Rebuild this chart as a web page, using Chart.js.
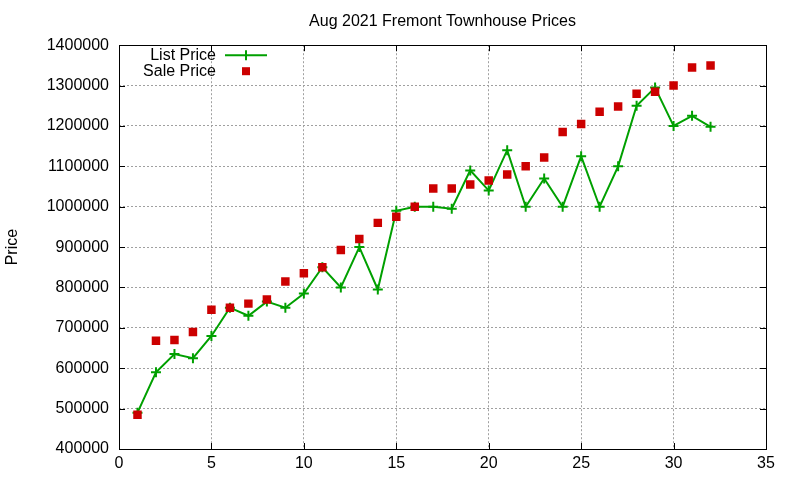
<!DOCTYPE html>
<html>
<head>
<meta charset="utf-8">
<script src="https://cdn.jsdelivr.net/npm/chart.js@4.4.0/dist/chart.umd.min.js"></script>
<style>
  html, body { margin: 0; padding: 0; background: #fff; }
  #wrap { width: 800px; height: 480px; }
</style>
</head>
<body>
<div id="wrap"><canvas id="myChart" width="800" height="480"></canvas></div>
<script>
// listing number (x) for each house
const casas = [1, 2, 3, 4, 5, 6, 7, 8, 9, 10, 11, 12, 13, 14, 15, 16,
  17, 18, 19, 20, 21, 22, 23, 24, 25, 26, 27, 28, 29, 30, 31, 32];

const listPrice = [490000, 590000, 635000, 625000, 680000, 750000, 730000, 765000,
  750000, 785000, 850000, 800000, 900000, 795000, 990000, 1000000,
  1000000, 995000, 1090000, 1040000, 1140000, 1000000, 1070000, 1000000,
  1125000, 1000000, 1100000, 1250000, 1295000, 1200000, 1225000, 1198000];

const salePrice = [485000, 668000, 670000, 690000, 745000, 750000, 760000, 770000,
  815000, 835000, 850000, 893000, 920000, 960000, 975000, 1000000,
  1045000, 1045000, 1055000, 1065000, 1080000, 1100000, 1122000, 1185000,
  1205000, 1235000, 1248000, 1280000, 1285000, 1300000, 1345000, 1350000];

const xTicks = [0, 5, 10, 15, 20, 25, 30, 35];
const yTicks = [400000, 500000, 600000, 700000, 800000, 900000, 1000000,
  1100000, 1200000, 1300000, 1400000];

const verde = 'rgb(0,160,0)';
const rojo = 'rgb(204,0,0)';
const fuente = 'Liberation Sans, Arial, sans-serif';

function puntos(valores) {
  return casas.map((c, i) => ({ x: c, y: valores[i] }));
}

// gnuplot style box, inward ticks on all four sides and legend inside the plot
const marcoGnuplot = {
  id: 'marcoGnuplot',
  afterDatasetsDraw(chart) {
    const { ctx, chartArea: a, scales } = chart;
    ctx.save();
    ctx.strokeStyle = '#000';
    ctx.lineWidth = 1;
    ctx.beginPath();
    xTicks.forEach(v => {
      const px = Math.round(scales.x.getPixelForValue(v)) + 0.5;
      ctx.moveTo(px, a.bottom); ctx.lineTo(px, a.bottom - 6);
      ctx.moveTo(px, a.top); ctx.lineTo(px, a.top + 6);
    });
    yTicks.forEach(v => {
      const py = Math.round(scales.y.getPixelForValue(v)) + 0.5;
      ctx.moveTo(a.left, py); ctx.lineTo(a.left + 6, py);
      ctx.moveTo(a.right, py); ctx.lineTo(a.right - 6, py);
    });
    ctx.stroke();
    ctx.strokeRect(Math.round(a.left) + 0.5, Math.round(a.top) + 0.5,
      Math.round(a.right - a.left), Math.round(a.bottom - a.top));

    // legend
    ctx.font = '16px ' + fuente;
    ctx.fillStyle = '#000';
    ctx.textAlign = 'right';
    ctx.textBaseline = 'middle';
    const ds = chart.data.datasets;
    const tx = a.left + 97, y0 = a.top + 10;
    ctx.fillText(ds[0].label, tx, y0);
    ctx.fillText(ds[1].label, tx, y0 + 16);
    ctx.strokeStyle = verde;
    ctx.lineWidth = 2;
    ctx.beginPath();
    ctx.moveTo(tx + 9, y0); ctx.lineTo(tx + 51, y0);
    ctx.moveTo(tx + 30, y0 - 5); ctx.lineTo(tx + 30, y0 + 5);
    ctx.stroke();
    ctx.fillStyle = rojo;
    ctx.fillRect(tx + 26, y0 + 16 - 4, 8, 8);
    ctx.restore();
  }
};

const ctx = document.getElementById('myChart').getContext('2d');
const myChart = new Chart(ctx, {
  type: 'scatter',
  data: {
    datasets: [{
      label: 'List Price',
      data: puntos(listPrice),
      showLine: true,
      borderColor: verde,
      backgroundColor: verde,
      borderWidth: 2,
      pointStyle: 'cross',
      pointRadius: 5,
      pointBorderWidth: 2,
      pointHoverRadius: 5,
      order: 2
    }, {
      label: 'Sale Price',
      data: puntos(salePrice),
      showLine: false,
      borderColor: rojo,
      backgroundColor: rojo,
      pointStyle: 'rect',
      pointRadius: 6,
      pointBorderWidth: 0,
      order: 1
    }]
  },
  options: {
    responsive: false,
    animation: false,
    layout: { padding: { left: 0, right: 34, top: 0, bottom: 0 } },
    plugins: {
      legend: { display: false },
      tooltip: { enabled: false },
      title: {
        display: true,
        text: 'Aug 2021 Fremont Townhouse Prices',
        fullSize: false,
        color: '#000',
        font: { family: fuente, size: 16, weight: 'normal' },
        padding: { top: 12, bottom: 14 }
      }
    },
    scales: {
      x: {
        type: 'linear',
        min: 0,
        max: 35,
        afterBuildTicks: s => { s.ticks = xTicks.map(v => ({ value: v })); },
        afterFit: s => { s.height = 31; },
        ticks: {
          color: '#000',
          padding: 5,
          font: { family: fuente, size: 16 },
          callback: v => String(v)
        },
        grid: {
          color: '#a0a0a0',
          drawTicks: false
        },
        border: { display: false, dash: [2, 2] }
      },
      y: {
        type: 'linear',
        min: 400000,
        max: 1400000,
        afterBuildTicks: s => { s.ticks = yTicks.map(v => ({ value: v })); },
        afterFit: s => { s.width = 119; },
        ticks: {
          color: '#000',
          padding: 10,
          font: { family: fuente, size: 16 },
          callback: v => String(v)
        },
        grid: {
          color: '#a0a0a0',
          drawTicks: false
        },
        border: { display: false, dash: [2, 2] },
        title: {
          display: true,
          text: 'Price',
          color: '#000',
          font: { family: fuente, size: 16 },
          padding: { top: 3, bottom: 0 }
        }
      }
    }
  },
  plugins: [marcoGnuplot]
});
</script>
</body>
</html>
